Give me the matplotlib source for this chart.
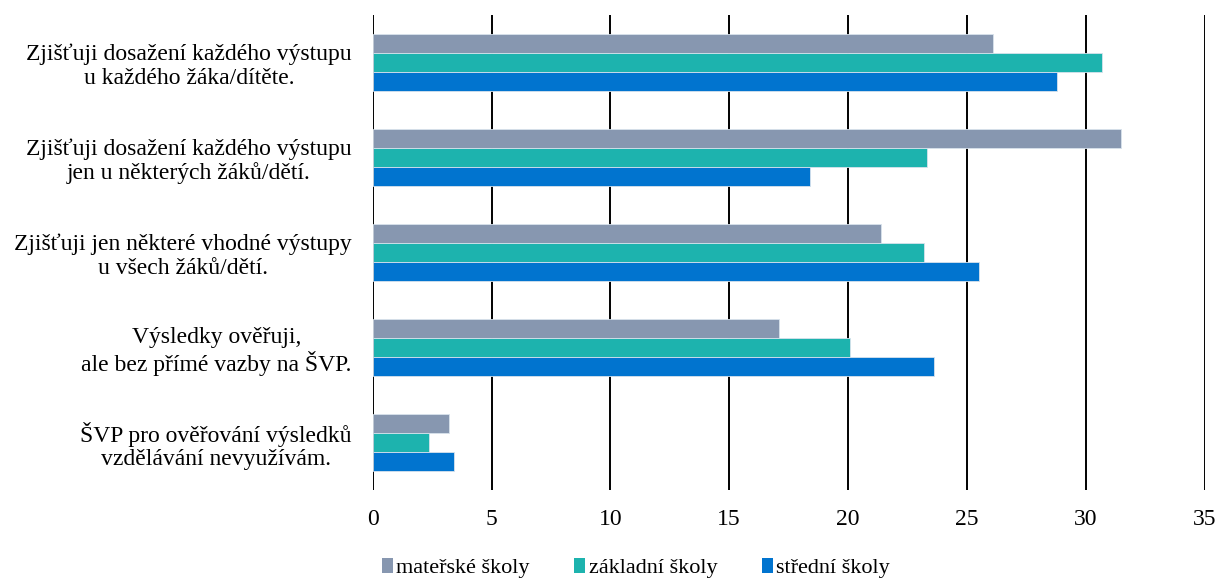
import numpy as np
from matplotlib import pyplot as plt
from matplotlib.patches import Patch

categories = [
    'Zjišťuji dosažení každého výstupu\nu každého žáka/dítěte.',
    'Zjišťuji dosažení každého výstupu\njen u některých žáků/dětí.',
    'Zjišťuji jen některé vhodné výstupy\nu všech žáků/dětí.',
    'Výsledky ověřuji,\nale bez přímé vazby na ŠVP.',
    'ŠVP pro ověřování výsledků\nvzdělávání nevyužívám.',
]
materske = [26.1, 31.5, 21.4, 17.1, 3.2]
zakladni = [30.7, 23.3, 23.2, 20.1, 2.35]
stredni = [28.8, 18.4, 25.5, 23.6, 3.4]
series_names = ['mateřské školy', 'základní školy', 'střední školy']
colors = ['#8797B0', '#1DB3AE', '#0174CF']
xticks = [0, 5, 10, 15, 20, 25, 30, 35]

plt.rcParams['font.family'] = ['Liberation Serif', 'DejaVu Serif']

fig = plt.figure(figsize=(12.18, 5.81), dpi=100)
ax = fig.add_axes([0.306, 0.157, 0.683, 0.817])

y = np.arange(len(categories))
h = 0.2
for k, vals in enumerate([materske, zakladni, stredni]):
    ax.barh(y + (k - 1) * h, vals, height=h, color=colors[k],
            edgecolor='#D8E2EC', linewidth=0.6, zorder=3, label=series_names[k])

ax.set_xlim(0, 35)
ax.set_ylim(len(categories) - 0.5, -0.5)
ax.set_xticks(xticks)
ax.set_xticklabels([str(t) for t in xticks], fontsize=17)
ax.set_yticks(y)
ax.set_yticklabels(categories, fontsize=17)
for lab in ax.get_yticklabels():
    lab.set_multialignment('center')
    lab.set_linespacing(1.15)

ax.tick_params(axis='both', length=0)
ax.tick_params(axis='x', pad=14)
ax.tick_params(axis='y', pad=15)
ax.grid(axis='x', color='black', linewidth=1.4, zorder=1)
for s in ax.spines.values():
    s.set_visible(False)

handles = [Patch(facecolor=c, edgecolor='none') for c in colors]
fig.legend(handles, series_names, loc='center', bbox_to_anchor=(0.522, 0.022),
           ncol=3, frameon=False, fontsize=16, handlelength=0.5,
           handleheight=0.7, handletextpad=0.15, columnspacing=2.0)

fig.savefig('out.png', dpi=100)
